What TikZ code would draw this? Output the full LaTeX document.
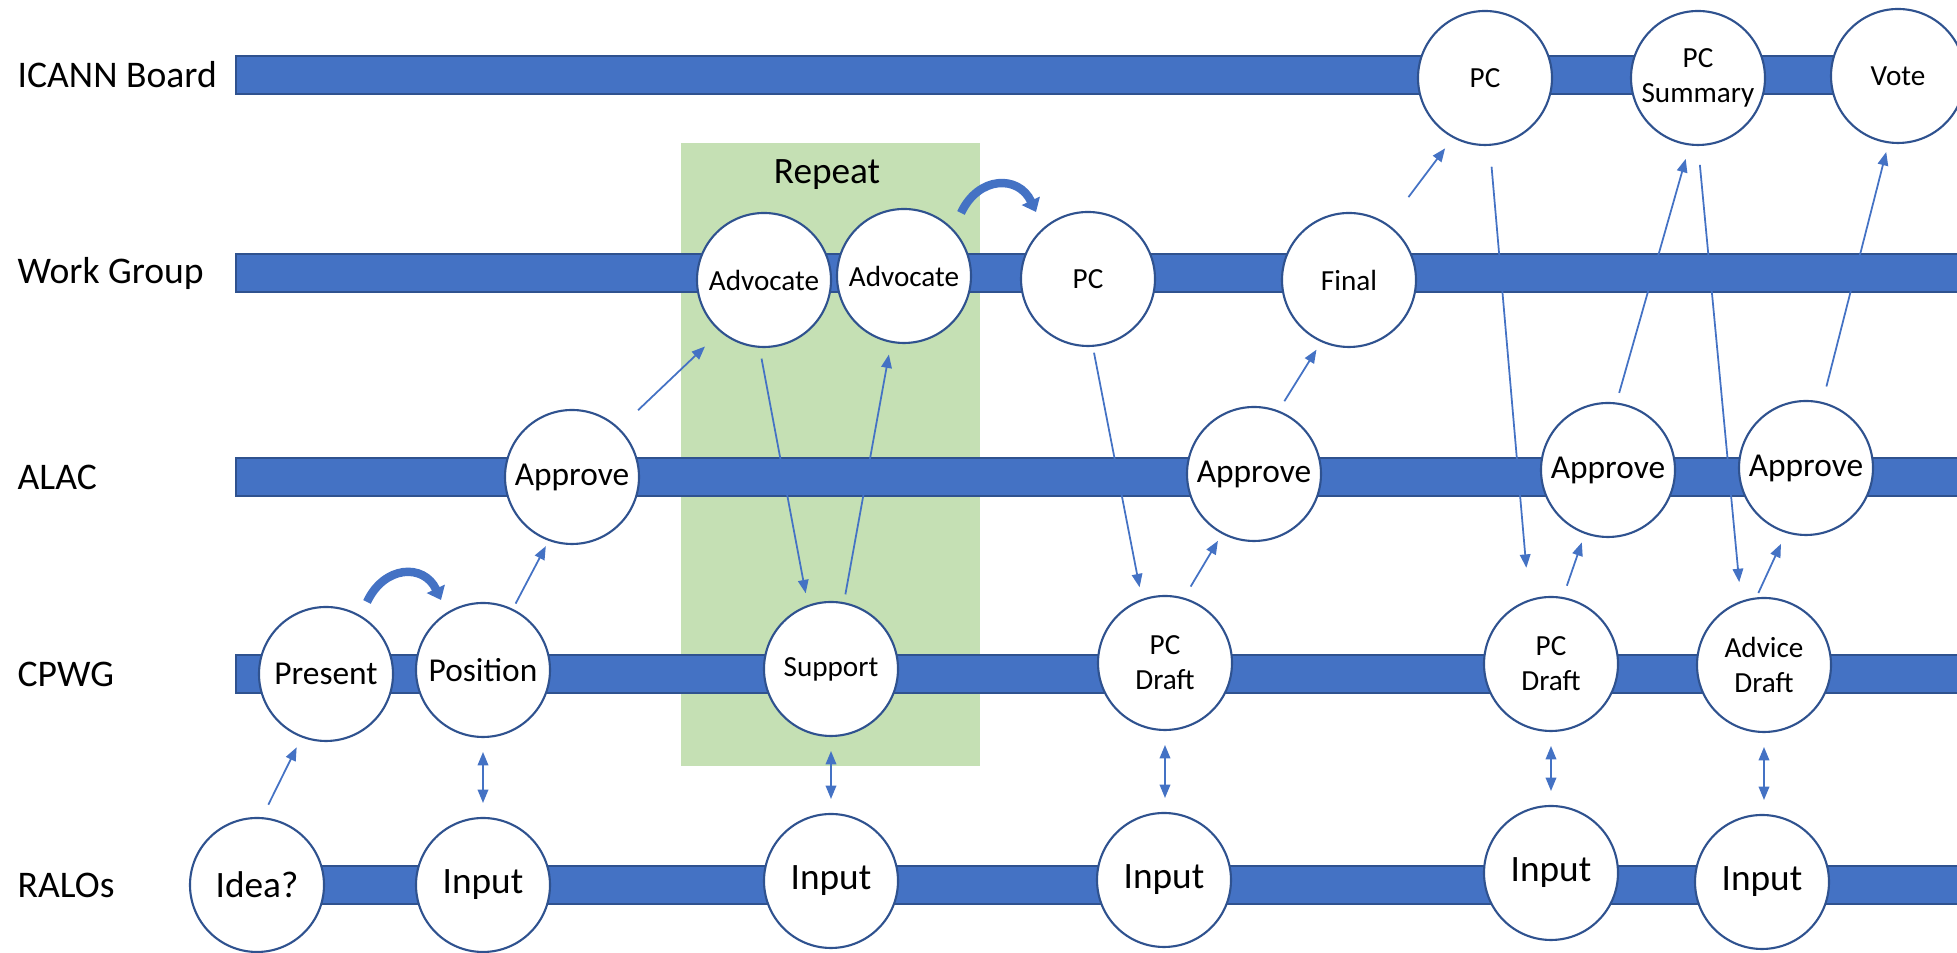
\documentclass[tikz,border=0pt]{standalone}
\usepackage{fontspec}
\setmainfont{Carlito}
\usetikzlibrary{arrows.meta}
\definecolor{barblue}{HTML}{4472C4}
\definecolor{edgeblue}{HTML}{2F528F}
\definecolor{repeatgreen}{HTML}{C5E0B4}

\tikzset{
  lane/.style={fill=barblue, draw=edgeblue, line width=0.4pt},
  lanelabel/.style={anchor=west, inner sep=0pt, font=\fontsize{10.7}{12.5}\selectfont},
  stage/.style={circle, draw=edgeblue, fill=white, line width=0.6pt, minimum size=13.4mm,
    inner sep=0pt, outer sep=0pt, align=center, font=\fontsize{8.3}{10}\selectfont},
  midtext/.style={font=\fontsize{9.5}{11}\selectfont},
  bigtext/.style={font=\fontsize{10.6}{12.5}\selectfont},
  >={Triangle[length=3.8pt,width=3pt]},
  flow/.style={draw=barblue, line width=0.5pt, ->},
  twoway/.style={draw=barblue, line width=0.5pt, <->},
  curl/.style={draw=barblue, line width=2.4pt, -{Triangle[length=3.5pt,width=5.5pt]}}
}

\begin{document}
\begin{tikzpicture}[x=0.1mm, y=-0.1mm]
  \useasboundingbox (0,0) rectangle (1957,953);

  % Repeat box (behind the bars)
  \fill[repeatgreen] (681,143) rectangle (980,766);
  \node[bigtext] (rep) at (827,175) {Repeat};

  % lanes and their labels
  \foreach \y/\name/\id in {75/ICANN Board/board, 273/Work Group/wg, 477/ALAC/alac, 674/CPWG/cpwg, 885/RALOs/ralo} {
    \draw[lane] (236,\y-19) rectangle (1975,\y+19);
    \node[lanelabel] (lbl-\id) at (17,\y) {\name};
  }

  % ICANN Board
  \node[stage] (pcb) at (1485,78) {PC};
  \node[stage] (sum) at (1698,78) {PC\\Summary};
  \node[stage] (vote) at (1898,76) {Vote};
  % Work Group
  \node[stage] (adv1) at (764,280) {Advocate};
  \node[stage] (adv2) at (904,276) {Advocate};
  \node[stage] (pcw) at (1088,279) {PC};
  \node[stage] (final) at (1349,280) {Final};
  % ALAC
  \node[stage, midtext] (app1) at (572,477) {Approve};
  \node[stage, midtext] (app2) at (1254,474) {Approve};
  \node[stage, midtext] (app3) at (1608,470) {Approve};
  \node[stage, midtext] (app4) at (1806,468) {Approve};
  % CPWG
  \node[stage, midtext] (present) at (326,674) {Present};
  \node[stage, midtext] (position) at (483,670) {Position};
  \node[stage] (support) at (831,669) {Support};
  \node[stage] (pcd1) at (1165,663) {PC\\Draft};
  \node[stage] (pcd2) at (1551,664) {PC\\Draft};
  \node[stage] (advd) at (1764,665) {Advice\\Draft};
  % RALOs
  \node[stage, bigtext] (idea) at (257,885) {Idea?};
  \node[stage, bigtext] (in1) at (483,885) {Input};
  \node[stage, bigtext] (in2) at (831,881) {Input};
  \node[stage, bigtext] (in3) at (1164,880) {Input};
  \node[stage, bigtext] (in4) at (1551,873) {Input};
  \node[stage, bigtext] (in5) at (1762,882) {Input};

  % one-way steps
  \foreach \a/\sa/\b/\eb/\gs/\ge in {
      idea/86/present/-111/1.5mm/1.2mm,
      position/64/app1/-110/0.7mm/0.7mm,
      app1/46/adv1/-130/2.7mm/2.2mm,
      adv1/-94/support/110/1.2mm/1.3mm,
      support/79/adv2/-101/0.9mm/1.3mm,
      pcw/-86/pcd1/110/0.7mm/1.3mm,
      pcd1/74/app2/-118/1.4mm/0.9mm,
      app2/69/final/-114/1.2mm/1.0mm,
      final/55/pcb/-118/3.5mm/1.4mm,
      pcb/-86/pcd2/109/2.2mm/3.3mm,
      pcd2/80/app3/-110/1.3mm/1.0mm,
      app3/83/sum/-97/1.1mm/1.5mm,
      sum/-90/advd/110/2.0mm/2.0mm,
      advd/97/app4/-107/0.6mm/1.3mm,
      app4/76/vote/-98/1.7mm/1.0mm} {
    \draw[flow, shorten <=\gs, shorten >=\ge] (\a.\sa) -- (\b.\eb);
  }

  % RALO input both ways
  \foreach \a/\b in {position/in1, support/in2, pcd1/in3, pcd2/in4, advd/in5} {
    \draw[twoway, shorten <=1.5mm, shorten >=1.5mm] (\a.south) -- (\a.south |- \b.north);
  }

  % loop-back arrows
  \draw[curl] ([xshift=4.1mm, yshift=7.2mm]present.center) to[out=65, in=115, looseness=1.4]
    ([xshift=-4.2mm, yshift=7.0mm]position.center);
  \draw[curl] ([xshift=5.7mm, yshift=6.3mm]adv2.center) to[out=65, in=115, looseness=1.4]
    ([xshift=-5.2mm, yshift=6.7mm]pcw.center);
\end{tikzpicture}
\end{document}
